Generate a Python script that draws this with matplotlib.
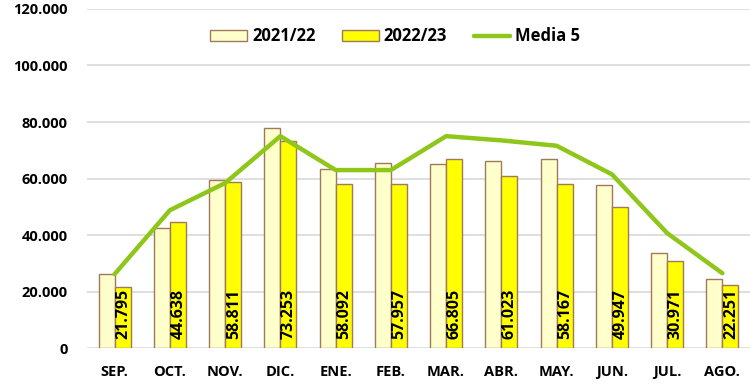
import matplotlib.pyplot as plt
import numpy as np
from matplotlib.ticker import FuncFormatter

months = ["SEP.", "OCT.", "NOV.", "DIC.", "ENE.", "FEB.", "MAR.", "ABR.", "MAY.", "JUN.", "JUL.", "AGO."]
season_2122 = [26200, 42500, 59500, 77900, 63400, 65400, 65100, 66200, 66900, 57700, 33600, 24400]
season_2223 = [21795, 44638, 58811, 73253, 58092, 57957, 66805, 61023, 58167, 49947, 30971, 22251]
media_5 = [26200, 48800, 58400, 75000, 63000, 63000, 75000, 73500, 71600, 61500, 40700, 26500]

plt.rcParams["font.family"] = ["Open Sans", "DejaVu Sans"]

fig = plt.figure(figsize=(7.5, 3.89), dpi=100)
ax = fig.add_axes([0.116, 0.105, 0.884, 0.872])

x = np.arange(len(months))
w = 0.29
edge = "#A0785A"
b1 = ax.bar(x - w / 2, season_2122, w, color="#FFFFCC", edgecolor=edge, linewidth=1.0,
            label="2021/22", zorder=2)
b2 = ax.bar(x + w / 2, season_2223, w, color="#FFFF00", edgecolor=edge, linewidth=1.0,
            label="2022/23", zorder=2)
ln, = ax.plot(x, media_5, color="#8EC71A", linewidth=3.2, label="Media 5", zorder=3,
              solid_capstyle="round")

# values of the current season written vertically inside each bar
for rect, val in zip(b2, season_2223):
    txt = f"{val:,}".replace(",", ".")
    ax.text(rect.get_x() + rect.get_width() / 2 + 0.01, 3300, txt, rotation=90,
            ha="center", va="bottom", fontsize=11.5, fontweight="bold", zorder=4)

ax.set_xlim(-0.5, len(months) - 0.5)
ax.set_ylim(0, 120000)
ax.set_yticks(np.arange(0, 120001, 20000))
ax.yaxis.set_major_formatter(FuncFormatter(lambda v, p: f"{int(v):,}".replace(",", ".")))
ax.set_xticks(x)
ax.set_xticklabels(months)
for lbl in ax.get_xticklabels() + ax.get_yticklabels():
    lbl.set_fontweight("bold")
    lbl.set_fontsize(10.5)

ax.grid(axis="y", color="#D9D9D9", linewidth=1.2, zorder=0)
ax.tick_params(length=0, pad=12)
ax.tick_params(axis="y", pad=14)
for side in ["top", "right", "left", "bottom"]:
    ax.spines[side].set_visible(False)

ax.legend([b1, b2, ln], ["2021/22", "2022/23", "Media 5"],
          loc="upper center", bbox_to_anchor=(0.465, 0.99), ncol=3, frameon=False,
          prop={"weight": "bold", "size": 12}, handlelength=2.2,
          columnspacing=1.6, handletextpad=0.3)

fig.savefig("out.png", dpi=100)
